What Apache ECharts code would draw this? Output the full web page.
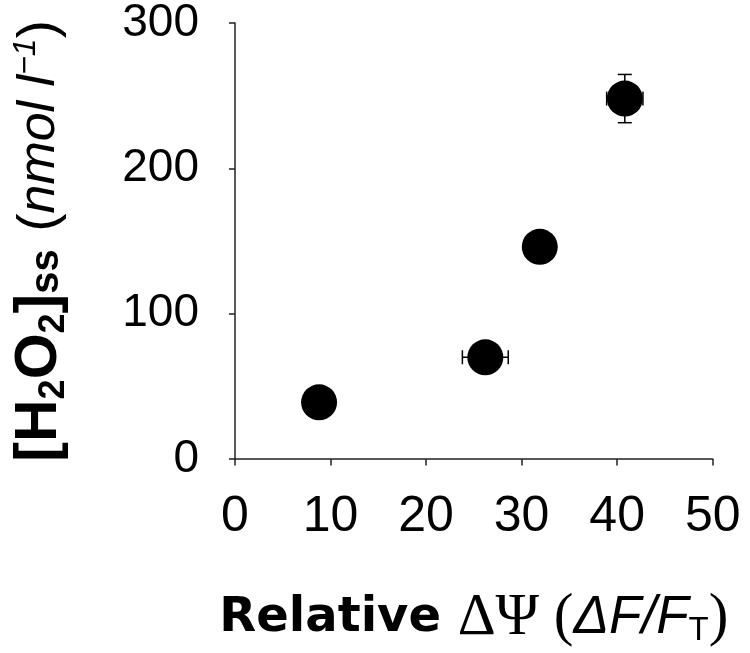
<!DOCTYPE html>
<html>
<head>
<meta charset="utf-8">
<script src="https://cdn.jsdelivr.net/npm/echarts@6/dist/echarts.min.js"></script>
<style>
html,body{margin:0;padding:0;background:#fff;}
#main{width:750px;height:653px;}
</style>
</head>
<body>
<div id="main"></div>
<script>
// Data
var xValues = [8.8, 26.2, 31.9, 40.8];
var yValues = [39, 70, 146, 248];
var xErrors = [0, 2.4, 0, 1.9];
var yErrors = [0, 0, 0, 16.6];
var xTicks = [0, 10, 20, 30, 40, 50];
var yTicks = [0, 100, 200, 300];

var points = xValues.map(function (x, i) { return [x, yValues[i]]; });
var errData = xValues.map(function (x, i) { return [x, yValues[i], xErrors[i], yErrors[i]]; });

var chart = echarts.init(document.getElementById('main'));
var SANS = '"Liberation Sans", Arial, sans-serif';
var WIDE = '"DejaVu Sans", "Liberation Sans", sans-serif';
var SERIF = '"Liberation Serif", "Times New Roman", serif';

chart.setOption({
  backgroundColor: '#fff',
  animation: false,
  grid: { left: 229.8, right: 37.3, top: 20.7, bottom: 190.3, containLabel: false },
  xAxis: {
    type: 'value',
    min: xTicks[0], max: xTicks[xTicks.length - 1], interval: 10,
    splitLine: { show: false },
    axisLine: { show: true, onZero: false, lineStyle: { color: '#222', width: 1.5 } },
    axisTick: { show: true, inside: false, length: 6.5, lineStyle: { color: '#222', width: 1.5 } },
    axisLabel: { fontFamily: SANS, fontSize: 50, color: '#000', margin: 33 },
    name: '{b|Relative }{s|ΔΨ (}{i|ΔF/F}{sub|T}{s|)}',
    nameLocation: 'middle',
    nameGap: 130,
    nameTextStyle: {
      rich: {
        b: { fontFamily: WIDE, fontWeight: 'bold', fontSize: 48, color: '#000' },
        s: { fontFamily: SERIF, fontSize: 59, color: '#000' },
        i: { fontFamily: SANS, fontStyle: 'italic', fontSize: 53, color: '#000' },
        sub: { fontFamily: SANS, fontSize: 33, color: '#000', padding: [24, 0, 0, 0] }
      }
    }
  },
  yAxis: {
    type: 'value',
    min: yTicks[0], max: yTicks[yTicks.length - 1], interval: 100,
    splitLine: { show: false },
    axisLine: { show: true, onZero: false, lineStyle: { color: '#222', width: 1.5 } },
    axisTick: { show: true, inside: false, length: 6, lineStyle: { color: '#222', width: 1.5 } },
    axisLabel: { fontFamily: SANS, fontSize: 46, color: '#000', margin: 36 },
    name: '{b|[H}{bs|2}{b|O}{bs|2}{b|]}{ss|ss}{gap| }{p|(}{i|nmol l}{sup|−1}{p|)}',
    nameLocation: 'middle',
    nameRotate: 90,
    nameGap: 163,
    nameTextStyle: {
      rich: {
        b: { fontFamily: SANS, fontWeight: 'bold', fontSize: 59, color: '#000' },
        bs: { fontFamily: SANS, fontWeight: 'bold', fontSize: 36, color: '#000', padding: [28, 0, 0, 0] },
        ss: { fontFamily: SANS, fontWeight: 'bold', fontSize: 40, color: '#000', padding: [14, 0, 0, 0] },
        gap: { fontFamily: SANS, fontSize: 64, color: '#000' },
        p: { fontFamily: SANS, fontSize: 54, color: '#000' },
        i: { fontFamily: SANS, fontStyle: 'italic', fontSize: 52, color: '#000' },
        sup: { fontFamily: SANS, fontStyle: 'italic', fontSize: 32, color: '#000', padding: [0, 0, 28, 0] }
      }
    }
  },
  series: [
    {
      type: 'custom',
      z: 1,
      renderItem: function (params, api) {
        var x = api.value(0), y = api.value(1), ex = api.value(2), ey = api.value(3);
        var children = [];
        var cap = 7;
        var style = { stroke: '#000', lineWidth: 1.5 };
        if (ex > 0) {
          var l = api.coord([x - ex, y]), r = api.coord([x + ex, y]);
          children.push({ type: 'line', shape: { x1: l[0], y1: l[1], x2: r[0], y2: r[1] }, style: style });
          children.push({ type: 'line', shape: { x1: l[0], y1: l[1] - cap, x2: l[0], y2: l[1] + cap }, style: style });
          children.push({ type: 'line', shape: { x1: r[0], y1: r[1] - cap, x2: r[0], y2: r[1] + cap }, style: style });
        }
        if (ey > 0) {
          var t = api.coord([x, y + ey]), b = api.coord([x, y - ey]);
          children.push({ type: 'line', shape: { x1: t[0], y1: t[1], x2: b[0], y2: b[1] }, style: style });
          children.push({ type: 'line', shape: { x1: t[0] - cap, y1: t[1], x2: t[0] + cap, y2: t[1] }, style: style });
          children.push({ type: 'line', shape: { x1: b[0] - cap, y1: b[1], x2: b[0] + cap, y2: b[1] }, style: style });
        }
        return { type: 'group', children: children };
      },
      data: errData
    },
    {
      type: 'scatter',
      z: 2,
      symbol: 'circle',
      symbolSize: 36,
      itemStyle: { color: '#000', opacity: 1 },
      data: points
    }
  ]
});
</script>
</body>
</html>
